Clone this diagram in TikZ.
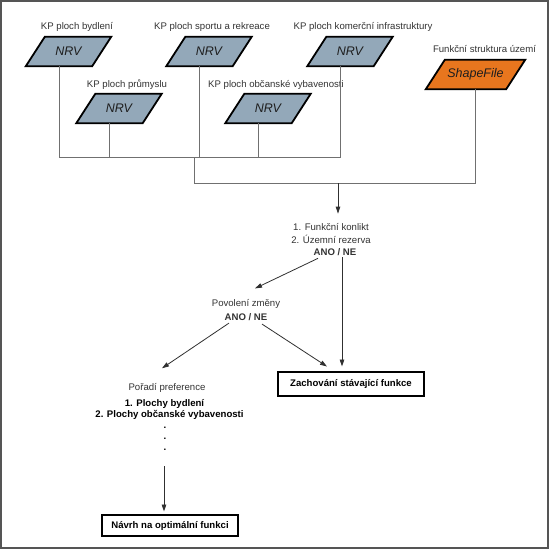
\documentclass[tikz,border=0pt]{standalone}
\usepackage{fontspec}
\setmainfont{Liberation Sans}
\usetikzlibrary{arrows.meta,calc,backgrounds}
\definecolor{nrvfill}{HTML}{93A8B9}
\definecolor{sforange}{HTML}{E8761E}
\definecolor{lgray}{HTML}{707070}
\definecolor{agray}{HTML}{303030}
\definecolor{framec}{HTML}{555555}
\definecolor{txt}{HTML}{333333}
\definecolor{paratxt}{HTML}{1E1E1E}
\newcommand\paraoutline[3]{% node name, fill colour, slant
  \begin{pgfonlayer}{background}
  \filldraw[fill=#2, draw=black, line width=1.8pt, line join=miter]
    ($(#1.south west)+(-#3/2,0)$) -- ($(#1.south east)+(-#3/2,0)$) --
    ($(#1.north east)+(#3/2,0)$) -- ($(#1.north west)+(#3/2,0)$) -- cycle;
  \end{pgfonlayer}}
\begin{document}
\begin{tikzpicture}[x=1pt,y=-1pt,
  lbl/.style={font=\fontsize{9.6}{12.5}\selectfont, text=txt, inner sep=0pt},
  blbl/.style={font=\fontsize{9.6}{11}\selectfont\bfseries, text=black, inner sep=0pt},
  para/.style={shape=rectangle, minimum height=29pt, minimum width=66pt, inner sep=0pt,
    font=\fontsize{12.5}{14}\selectfont\itshape, text=paratxt},
  conn/.style={draw=lgray, line width=1pt},
  arr/.style={draw=agray, line width=0.8pt, -{Triangle[length=7pt,width=4.5pt]}},
  resbox/.style={draw=black, line width=1.6pt, fill=white, inner sep=0pt,
    font=\fontsize{9.6}{11}\selectfont\bfseries, text=black}
]
\useasboundingbox (0,0) rectangle (550,549);
\begin{pgfonlayer}{background}
\fill[white] (0,0) rectangle (550,549);
\end{pgfonlayer}
\draw[framec, line width=1.6pt] (0.8,0.8) rectangle (547.7,547.7);

% source layers
\node[lbl] (t1) at (77,27) {KP ploch bydlení};
\node[para] (p1) at (68.5,51.5) {NRV};
\node[lbl] (t2) at (127,85) {KP ploch průmyslu};
\node[para] (p2) at (119,108.5) {NRV};
\node[lbl] (t3) at (212,27) {KP ploch sportu a rekreace};
\node[para] (p3) at (209,51.5) {NRV};
\node[lbl] (t4) at (276,85) {KP ploch občanské vybavenosti};
\node[para] (p4) at (268,108.5) {NRV};
\node[lbl] (t5) at (363,27) {KP ploch komerční infrastruktury};
\node[para] (p5) at (350,51.5) {NRV};
\node[lbl] (t6) at (484.5,49) {Funkční struktura území};
\node[para, minimum width=80pt] (sf) at (475.5,74.5) {ShapeFile};

\foreach \p in {p1,p2,p3,p4,p5}{
  \paraoutline{\p}{nrvfill}{19}
  \coordinate (\p b) at ($(\p.south)+(-9.5,0)$);
}
\paraoutline{sf}{sforange}{19}
\coordinate (sfb) at (sf.south);
\coordinate (bus1) at (194,157);
\coordinate (bus2) at (338,183);

% decision nodes
\node[lbl, align=center] (q1) at (331,240) {1. Funkční konlikt\\2. Územní rezerva\\\hspace*{8pt}\textbf{ANO / NE}};
\node[lbl, align=center, font=\fontsize{9.6}{13.5}\selectfont] (pov) at (246,310) {Povolení změny\\\textbf{ANO / NE}};
\node[resbox, minimum width=146.4pt, minimum height=24.4pt] (zach) at (351,384) {Zachování stávající funkce};
\node[lbl] (pref) at (167,388) {Pořadí preference};
\node[blbl, align=center] (lst) at (169.5,425) {\hspace*{-10pt}1. Plochy bydlení\\2. Plochy občanské vybavenosti\\\hspace*{-9pt}.\\\hspace*{-9pt}.\\\hspace*{-9pt}.};
\node[resbox, minimum width=136.4pt, minimum height=21.4pt] (navrh) at (170,525.5) {Návrh na optimální funkci};

% bus lines
\draw[conn] (p1b) -- (p1b |- bus1) -- (p5b |- bus1) -- (p5b);
\draw[conn] (p2b) -- (p2b |- bus1);
\draw[conn] (p3b) -- (p3b |- bus1);
\draw[conn] (p4b) -- (p4b |- bus1);
\draw[conn] (bus1) -- (bus1 |- bus2) -- (sfb |- bus2) -- (sfb);

% arrows
\draw[arr] (bus2) -- ($(bus2 |- q1.north)+(0,-10)$);
\draw[arr] ($(q1.south)+(-13,2)$) -- ($(pov.north)+(9,-11)$);
\coordinate (q1r) at ($(q1.south)+(11,1)$);
\draw[arr] (q1r) -- ($(q1r |- zach.north)+(0,-4.5)$);
\draw[arr] ($(pov.south)+(16,3.5)$) -- ($(zach.north)+(-24,-4.5)$);
\draw[arr] ($(pov.south)+(-17,2.5)$) -- ($(pref.north)+(-5,-15)$);
\coordinate (lstb) at ($(lst.south)+(-5.5,15.5)$);
\draw[arr] (lstb) -- ($(lstb |- navrh.north)+(0,-2.5)$);
\end{tikzpicture}
\end{document}
